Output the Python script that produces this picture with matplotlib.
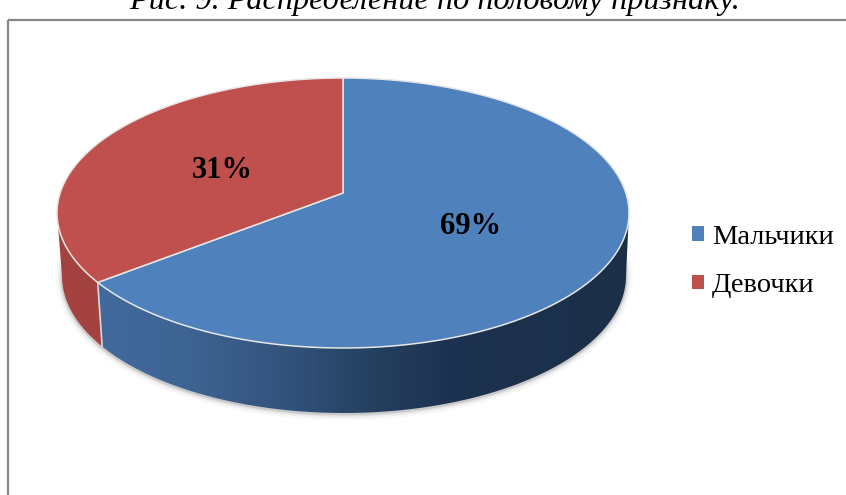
import numpy as np
import matplotlib
matplotlib.use("Agg")
import matplotlib.pyplot as plt
from matplotlib.patches import Patch, Polygon, Rectangle
from matplotlib.colors import LinearSegmentedColormap

categories = ["Мальчики", "Девочки"]
values = [69, 31]
title = "Рис. 9. Распределение по половому признаку."
colors = ["#4f81bd", "#c0504d"]

plt.rcParams["font.family"] = ["Liberation Serif", "DejaVu Serif"]
W, H = 846, 495
fig = plt.figure(figsize=(W / 100, H / 100), dpi=100)
ax = fig.add_axes([0, 0, 1, 1])
ax.set_axis_off()

# Tilted-disc geometry, in pixel-like axes units
CX, CY, RX, RY = 343, 213, 286, 135
BX, BY, BRX, BRY = 344, 276, 282, 137
APEX = (343, 193)
K = 1.2  # perspective compression of the pie angle


def screen_angle(frac):
    t = frac * np.pi
    if abs(frac - 1) < 1e-9:
        return np.pi
    p = 2 * np.arctan(K * np.tan(t))
    return p if p >= 0 else p + 2 * np.pi


def arc(cx, cy, rx, ry, a0, a1, n=200):
    a = np.linspace(a0, a1, n)
    return np.column_stack([cx + rx * np.sin(a), cy - ry * np.cos(a)])


share = values[0] / sum(values)
split = screen_angle(share)
full = 2 * np.pi
quarter = np.pi / 2

# soft shadow under the side wall
low = arc(BX, BY, BRX, BRY, quarter - 0.1, 3 * quarter + 0.1, 300)
for lw, al in [(9, 0.03), (6, 0.05), (3.5, 0.08), (1.8, 0.15)]:
    ax.plot(low[:, 0], low[:, 1] + 1, color="#404040", lw=lw, alpha=al,
            solid_capstyle="round", zorder=1)

# side walls
grad = LinearSegmentedColormap.from_list(
    "wall",
    [(0.0, "#41699b"), (0.16, "#3e6594"), (0.36, "#32527b"),
     (0.52, "#24405f"), (0.66, "#1d3250"), (1.0, "#1b2f48")],
)
blue_wall = np.vstack([arc(CX, CY, RX, RY, quarter, split),
                       arc(BX, BY, BRX, BRY, split, quarter)])
poly = Polygon(blue_wall, closed=True, fc="none", ec="none", transform=ax.transData)
ax.add_patch(poly)
im = ax.imshow(np.linspace(0, 1, 512)[None, :], cmap=grad, aspect="auto",
               extent=(98, 630, 420, 200), zorder=2)
im.set_clip_path(poly)

red_wall = np.vstack([arc(CX, CY, RX, RY, split, 3 * quarter),
                      arc(BX, BY, BRX, BRY, 3 * quarter, split)])
ax.add_patch(Polygon(red_wall, closed=True, fc="#a3423f", ec="none", zorder=2))
seam = np.array([arc(CX, CY, RX, RY, split, split, 1)[0],
                 arc(BX, BY, BRX, BRY, split, split, 1)[0]])
ax.plot(seam[:, 0], seam[:, 1], color="#d9d9d9", lw=1.2, zorder=3)

# top faces
blue_top = np.vstack([[APEX], arc(CX, CY, RX, RY, 0, split)])
red_top = np.vstack([[APEX], arc(CX, CY, RX, RY, split, full)])
for pts, c in [(blue_top, colors[0]), (red_top, colors[1])]:
    ax.add_patch(Polygon(pts, closed=True, fc=c, ec="#e6e6e6", lw=1.1,
                         joinstyle="round", zorder=4))

# data labels
for v, pos in zip(values, [(471, 227), (222, 171)]):
    ax.text(pos[0], pos[1], f"{v}%", ha="center", va="center", fontsize=22,
            fontweight="bold", color="black", zorder=5)

# chart frame
ax.add_patch(Rectangle((8, 19.5), 900, 600, fc="none", ec="#868686", lw=1.6, zorder=6))

# caption, cut by the top edge of the picture
ax.text(435, 9.5, title, ha="center", va="baseline", fontsize=23.2, style="italic",
        color="black", zorder=7)

handles = [Patch(fc=c, ec="none") for c in colors]
leg = ax.legend(handles, categories, loc="center left", bbox_to_anchor=(692 / W, 1 - 261.5 / H),
                frameon=False, fontsize=20.5, handlelength=0.42, handleheight=0.42,
                handletextpad=0.27, labelspacing=0.82, borderpad=0, borderaxespad=0)

ax.set_xlim(0, W)
ax.set_ylim(H, 0)
fig.savefig("out.png", dpi=100)
